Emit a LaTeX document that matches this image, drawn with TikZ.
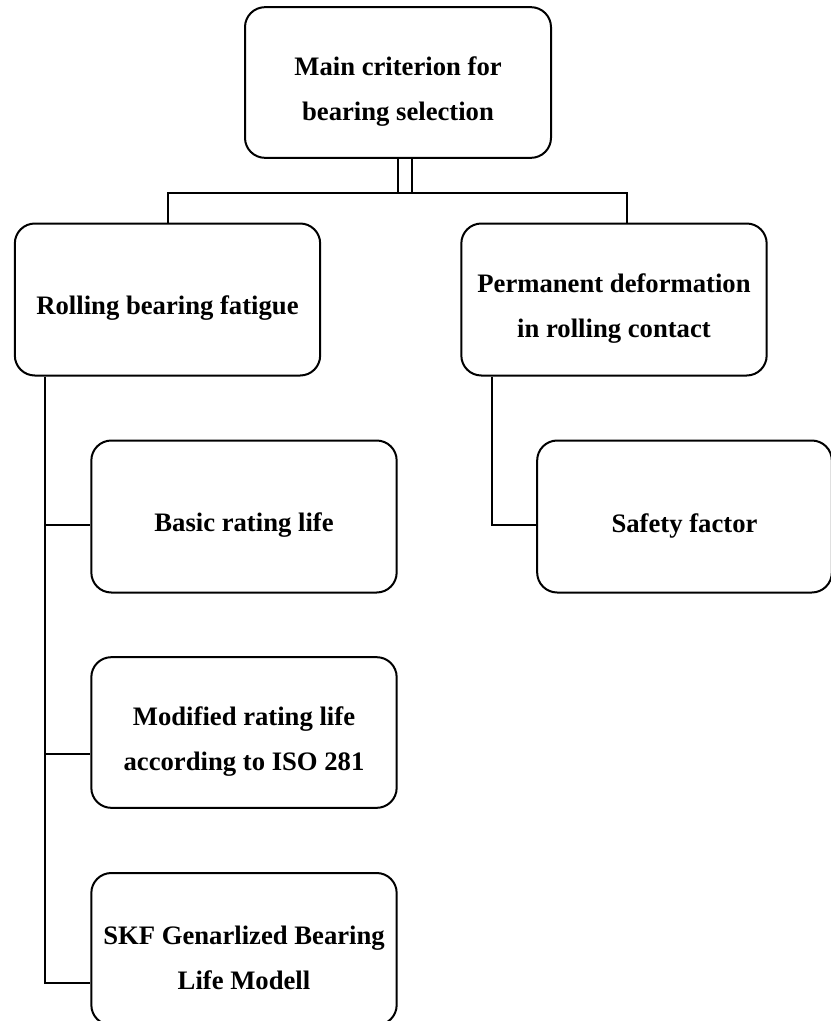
\documentclass[tikz,border=0pt]{standalone}
\usepackage{fontspec}
\setmainfont{Liberation Serif}
\usetikzlibrary{positioning}

\tikzset{
  critbox/.style={draw, line width=1.5pt, rounded corners=15pt,
    minimum width=229pt, minimum height=114pt, inner sep=0pt},
  boxtext/.style={align=center, inner sep=0pt, yshift=-6.75pt,
    font=\fontsize{20}{34}\selectfont\bfseries},
  link/.style={line width=1.5pt}
}

\begin{document}
\begin{tikzpicture}[x=0.75pt,y=0.75pt,yscale=-1,xscale=1]
\useasboundingbox (0,0) rectangle (831,1021);
\clip (0,0) rectangle (831,1021);

%Shape: Rounded Rect [id:main]
\node [critbox, minimum width=229.5pt, minimum height=113pt,
  label={[boxtext]center:Main criterion for\\bearing selection}] (main) at (398,82.5) {};
%Shape: Rounded Rect [id:fatigue]
\node [critbox, label={[boxtext]center:Rolling bearing fatigue}] (fatigue) at (167.5,299.5) {};
%Shape: Rounded Rect [id:deform]
\node [critbox, label={[boxtext]center:Permanent deformation\\in rolling contact}] (deform) at (614,299.5) {};
%Shape: Rounded Rect [id:basic]
\node [critbox, label={[boxtext]center:Basic rating life}] (basic) at (244,516.5) {};
%Shape: Rounded Rect [id:modified]
\node [critbox, minimum height=113pt,
  label={[boxtext]center:Modified rating life\\according to ISO 281}] (modified) at (244,732.5) {};
%Shape: Rounded Rect [id:skf]
\node [critbox, label={[boxtext]center:SKF Genarlized Bearing\\Life Modell}] (skf) at (244,949) {};
%Shape: Rounded Rect [id:safety]
\node [critbox, minimum width=221pt, label={[boxtext]center:Safety factor}] (safety) at (684.5,516.5) {};

% junctions
\coordinate (bus) at (405,193);
\coordinate (busR) at (627,193);
\coordinate (jbasic) at (45,525);
\coordinate (jmod) at (45,754);
\coordinate (jskf) at (45,983);
\coordinate (jsafe) at (492,525);

%Double Line
\draw [link, double, double distance=9pt] (main.south -| bus) -- (bus);
%Straight Lines
\draw [link] (fatigue.north) |- (busR) -- (busR |- deform.north);
%Straight Lines
\draw [link] (jskf |- fatigue.south) -- (jskf) -- (jskf -| skf.west);
\draw [link] (jbasic) -- (jbasic -| basic.west);
\draw [link] (jmod) -- (jmod -| modified.west);
%Straight Lines
\draw [link] (jsafe |- deform.south) -- (jsafe) -- (jsafe -| safety.west);

\end{tikzpicture}
\end{document}
